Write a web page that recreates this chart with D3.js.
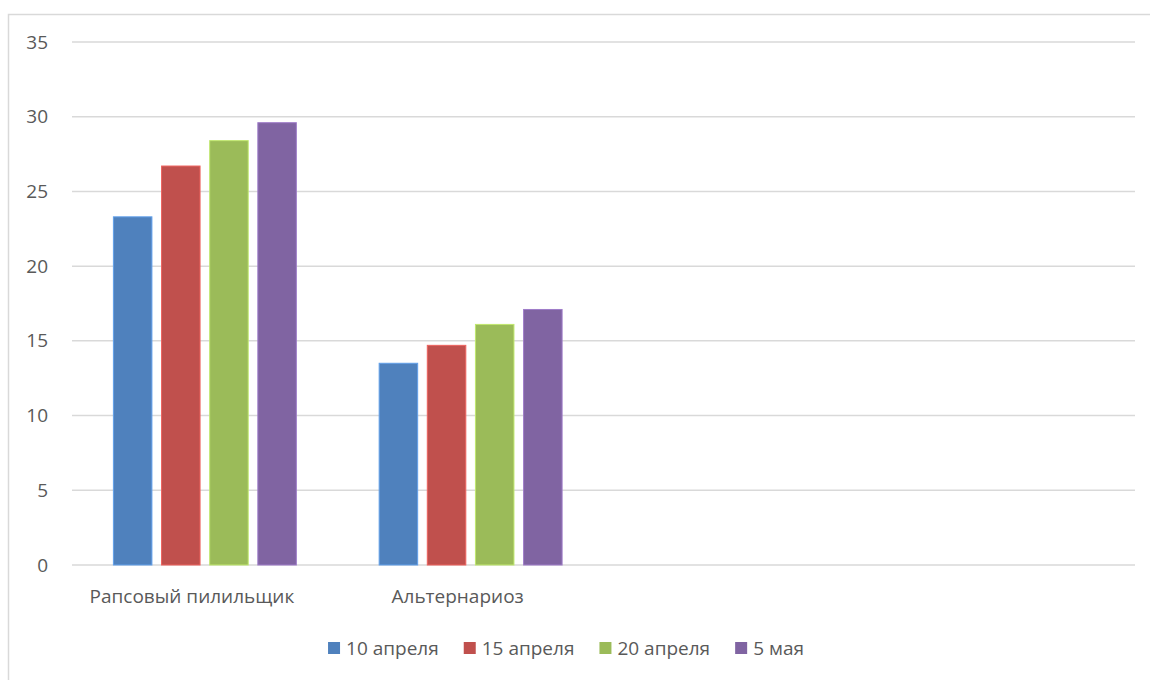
<!DOCTYPE html>
<html>
<head>
<meta charset="utf-8">
<script src="https://cdn.jsdelivr.net/npm/d3@7"></script>
<style>
  body { margin: 0; background: #fff; }
  svg { display: block; font-family: "Open Sans", "Noto Sans", sans-serif; }
</style>
</head>
<body>
<svg></svg>
<script>
const categories = ['Рапсовый пилильщик', 'Альтернариоз', '', ' '];
const series = ['10 апреля', '15 апреля', '20 апреля', '5 мая'];
const values = [
  [23.3, 13.5],   // 10 апреля
  [26.7, 14.7],   // 15 апреля
  [28.4, 16.1],   // 20 апреля
  [29.6, 17.1]    // 5 мая
];
const colors = ['#4F81BD', '#C0504D', '#9BBB59', '#8064A2'];
const yTicks = [0, 5, 10, 15, 20, 25, 30, 35];

const WIDTH = 1150,
      HEIGHT = 680,
      MARGINS = { top: 42, right: 15, bottom: 115, left: 72 };

let svg = d3.select('svg')
  .attr('width', WIDTH)
  .attr('height', HEIGHT);

// outer chart frame
svg.append('rect')
  .attr('x', 8.5).attr('y', 14.5)
  .attr('width', 1160).attr('height', 700)
  .attr('fill', '#fff')
  .attr('stroke', '#d9d9d9')
  .attr('stroke-width', 1.5);

let x0 = d3.scaleBand()
  .domain(d3.range(categories.length))
  .range([MARGINS.left, WIDTH - MARGINS.right]);

let x1 = d3.scaleBand()
  .domain(d3.range(series.length))
  .range([0, x0.bandwidth()])
  .paddingInner(0.2)
  .paddingOuter(0.86);

let y = d3.scaleLinear()
  .domain([0, 35])
  .range([HEIGHT - MARGINS.bottom, MARGINS.top]);

// gridlines
svg.append('g')
  .selectAll('line')
  .data(yTicks)
  .join('line')
  .attr('x1', MARGINS.left)
  .attr('x2', WIDTH - MARGINS.right)
  .attr('y1', d => y(d))
  .attr('y2', d => y(d))
  .attr('stroke', '#d9d9d9')
  .attr('stroke-width', 1.5);

// y axis labels
let yAxis = svg.append('g')
  .attr('transform', 'translate(' + (MARGINS.left - 24) + ',0)')
  .call(d3.axisLeft(y).tickValues(yTicks).tickSize(0).tickPadding(0));
yAxis.select('.domain').remove();
yAxis.selectAll('text')
  .attr('fill', '#595959')
  .style('font-size', '19px')
  .style('font-family', '"Open Sans", "Noto Sans", sans-serif');

// bars
let rows = [];
series.forEach((s, si) => {
  categories.forEach((c, ci) => {
    if (values[si][ci] !== undefined) rows.push({ si: si, ci: ci, v: values[si][ci] });
  });
});

svg.append('g')
  .selectAll('rect')
  .data(rows)
  .join('rect')
  .attr('x', d => x0(d.ci) + x1(d.si))
  .attr('width', x1.bandwidth())
  .attr('y', d => y(d.v))
  .attr('height', d => y(0) - y(d.v))
  .attr('fill', d => colors[d.si])
  .attr('stroke', d => d3.color(colors[d.si]).brighter(0.6))
  .attr('stroke-width', 1);

// category axis
let xAxis = svg.append('g')
  .attr('transform', 'translate(0,' + y(0) + ')')
  .call(d3.axisBottom(x0).tickFormat(i => categories[i]).tickSize(0).tickPadding(25));
xAxis.select('.domain').remove();
xAxis.selectAll('text')
  .attr('fill', '#595959')
  .attr('dx', -13)
  .style('font-size', '19px')
  .style('font-family', '"Open Sans", "Noto Sans", sans-serif');

// legend
let legend = svg.append('g');
let items = legend.selectAll('g')
  .data(series)
  .join('g');
items.append('rect')
  .attr('width', 12).attr('height', 12)
  .attr('y', -6)
  .attr('fill', (d, i) => colors[i]);
items.append('text')
  .attr('x', 18)
  .attr('dy', '0.35em')
  .attr('fill', '#595959')
  .style('font-size', '19px')
  .text(d => d);

let widths = [];
items.each(function() { widths.push(this.getBBox().width); });
let total = d3.sum(widths) + 25 * (widths.length - 1);
let start = 566 - total / 2;
let pos = 0;
items.attr('transform', (d, i) => {
  let t = 'translate(' + (start + pos) + ',648)';
  pos += widths[i] + 25;
  return t;
});
</script>
</body>
</html>
